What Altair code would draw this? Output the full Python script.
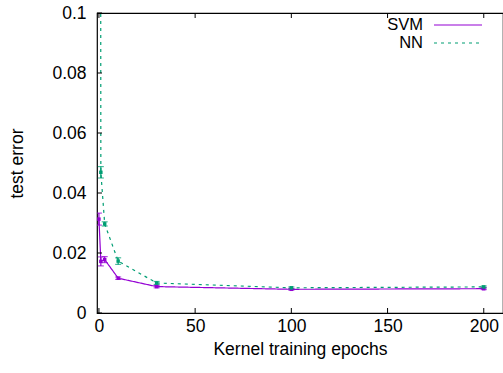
import altair as alt
import pandas as pd

# Test error vs. kernel training epochs
epochs = [0, 1, 3, 10, 30, 100, 200]
svm_err = [0.0313, 0.0172, 0.0178, 0.0116, 0.0088, 0.0079, 0.0081]
svm_sd = [0.0020, 0.0015, 0.0010, 0.0004, 0.0004, 0.0003, 0.0003]
nn_err = [0.9000, 0.0469, 0.0297, 0.0173, 0.0100, 0.0084, 0.0087]
nn_sd = [0.0050, 0.0019, 0.0007, 0.0011, 0.0005, 0.0003, 0.0003]

series = ["SVM", "NN"]
colors = ["#9400d3", "#009e73"]
dashes = [[1, 0], [3, 4]]

x_ticks = [0, 50, 100, 150, 200]
y_ticks = [0, 0.02, 0.04, 0.06, 0.08, 0.1]

FONT = "Liberation Sans"
FS = 17.5
W, H = 406, 300

rows = []
for name, err, sd in [("SVM", svm_err, svm_sd), ("NN", nn_err, nn_sd)]:
    for e, v, s in zip(epochs, err, sd):
        rows.append({"series": name, "epochs": e, "err": v, "lo": v - s, "hi": v + s})
df = pd.DataFrame(rows)

xs = alt.Scale(domain=[-1, 210], nice=False, zero=False)
ys = alt.Scale(domain=[0, 0.1], nice=False)
cs = alt.Scale(domain=series, range=colors)
ds = alt.Scale(domain=series, range=dashes)

x_enc = alt.X("epochs:Q", scale=xs, title="Kernel training epochs",
              axis=alt.Axis(values=x_ticks, ticks=False, domain=False, grid=False,
                            labelFont=FONT, labelFontSize=FS, labelColor="black",
                            labelPadding=4, titleFont=FONT, titleFontSize=FS,
                            titleFontWeight="normal", titleColor="black", titlePadding=6))
y_enc = alt.Y("err:Q", scale=ys, title="test error",
              axis=alt.Axis(values=y_ticks, ticks=False, domain=False, grid=False,
                            labelExpr="format(datum.value, '~g')",
                            labelFont=FONT, labelFontSize=FS, labelColor="black",
                            labelPadding=11, labelFlush=False,
                            titleFont=FONT, titleFontSize=FS, titleFontWeight="normal",
                            titleColor="black", titleX=-75, titleY=150,
                            titleBaseline="alphabetic", titleAlign="center"))

base = alt.Chart(df)

lines = base.mark_line(clip=True, strokeWidth=1.2).encode(
    x=x_enc, y=y_enc,
    color=alt.Color("series:N", scale=cs, legend=None),
    strokeDash=alt.StrokeDash("series:N", scale=ds, legend=None),
    detail="series:N",
)

bars = base.mark_rule(clip=True, strokeWidth=1.2).encode(
    x="epochs:Q", y="lo:Q", y2="hi:Q",
    color=alt.Color("series:N", scale=cs, legend=None),
)
cap_lo = base.mark_tick(clip=True, orient="horizontal", size=6, thickness=1.2).encode(
    x="epochs:Q", y="lo:Q", color=alt.Color("series:N", scale=cs, legend=None))
cap_hi = base.mark_tick(clip=True, orient="horizontal", size=6, thickness=1.2).encode(
    x="epochs:Q", y="hi:Q", color=alt.Color("series:N", scale=cs, legend=None))
pts = base.mark_square(clip=True, size=12, opacity=1).encode(
    x="epochs:Q", y="err:Q", color=alt.Color("series:N", scale=cs, legend=None))

# inward tick marks, bottom/top and left
xt = pd.DataFrame({"t": x_ticks})
yt = pd.DataFrame({"t": y_ticks})
xtick_bot = alt.Chart(xt).mark_rule(color="black").encode(
    x=alt.X("t:Q", scale=xs), y=alt.value(H), y2=alt.value(H - 5))
xtick_top = alt.Chart(xt).mark_rule(color="black").encode(
    x=alt.X("t:Q", scale=xs), y=alt.value(0), y2=alt.value(5))
ytick = alt.Chart(yt).mark_rule(color="black").encode(
    y=alt.Y("t:Q", scale=ys), x=alt.value(0), x2=alt.value(5))

# key in the upper right
leg = pd.DataFrame({"series": series, "ypos": [12, 30]})
leg_text = alt.Chart(leg).mark_text(align="right", baseline="middle", font=FONT,
                                    fontSize=16.5, color="black").encode(
    text="series:N", x=alt.value(326), y=alt.Y("ypos:Q", scale=None))
leg_line = alt.Chart(leg).mark_rule(strokeWidth=1.2).encode(
    x=alt.value(337), x2=alt.value(385), y=alt.Y("ypos:Q", scale=None),
    color=alt.Color("series:N", scale=cs, legend=None),
    strokeDash=alt.StrokeDash("series:N", scale=ds, legend=None))

chart = alt.layer(
    lines, bars, cap_lo, cap_hi, pts, xtick_bot, xtick_top, ytick, leg_text, leg_line
).properties(
    width=W, height=H,
    autosize=alt.AutoSizeParams(type="none"),
    padding={"left": 97, "top": 13, "right": 0, "bottom": 60},
    background="white",
).configure_view(stroke="black", strokeWidth=1.2)

chart.save("out.html", embed_options={"renderer": "svg", "actions": False})
